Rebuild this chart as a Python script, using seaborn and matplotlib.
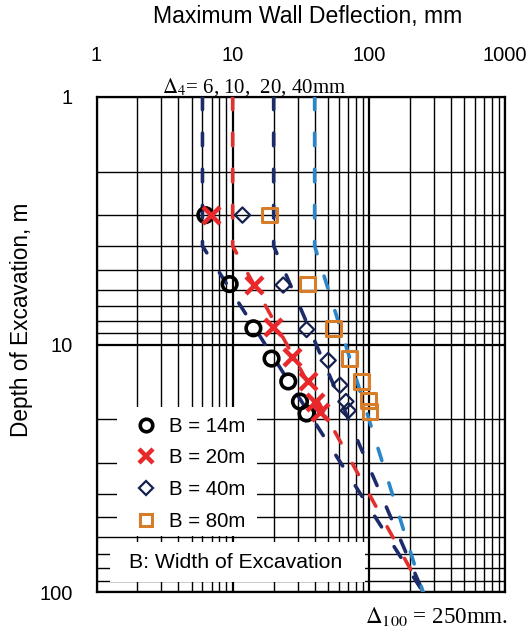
import numpy as np
import matplotlib
matplotlib.use("Agg")
import matplotlib.pyplot as plt
import seaborn as sns
from matplotlib.lines import Line2D
from matplotlib.patches import Rectangle
from matplotlib.ticker import LogLocator, NullFormatter

sns.set_style("white")
plt.rcParams['font.family'] = ['Liberation Sans', 'DejaVu Sans']
plt.rcParams['mathtext.fontset'] = 'stix'
plt.rcParams['text.color'] = 'black'

# measured points: max wall deflection (mm) vs depth of excavation (m)
depth_14 = [3.0, 5.7, 8.6, 11.4, 14.1, 17.0, 19.0]
defl_14 = [6.3, 9.5, 14.2, 19.3, 25.6, 31.2, 34.9]
depth_20 = [3.0, 5.75, 8.5, 11.2, 14.1, 17.0, 18.7]
defl_20 = [6.9, 14.3, 19.9, 27.1, 35.9, 40.2, 43.8]
depth_40 = [3.0, 5.75, 8.7, 11.6, 14.6, 17.0, 18.5]
defl_40 = [11.8, 23.5, 34.9, 50.3, 61.4, 67.9, 70.6]
depth_80 = [3.0, 5.7, 8.6, 11.4, 14.1, 16.8, 18.7]
defl_80 = [18.6, 35.3, 54.8, 72.0, 88.5, 99.0, 102.0]

# design lines: delta4 constant down to 4 m, then straight to 250 mm at 100 m
delta4 = [6, 10, 20, 40]
delta100 = 250
line_depth = [1, 4, 100]
line_colors = ['#1c2c6a', '#e2302e', '#1c2c6a', '#2a86c9']

x_ticks = [1, 10, 100, 1000]
y_ticks = [1, 10, 100]

fig = plt.figure(figsize=(5.31, 6.35), dpi=100)
ax = fig.add_axes([96.5 / 531, 1 - 592 / 635, 408.5 / 531, 495 / 635])
ax.set_xscale('log')
ax.set_yscale('log')

# dashed design lines
for d4, c in zip(delta4, line_colors):
    sns.lineplot(x=[d4, d4, delta100], y=line_depth, sort=False, estimator=None,
                 color=c, lw=2.6, linestyle=(0, (3.5, 6.5)),
                 dash_capstyle='round', zorder=3, ax=ax)

# measured points
sns.scatterplot(x=defl_14, y=depth_14, marker='o', s=110, facecolors='none',
                edgecolor='black', linewidth=2.6, zorder=5, ax=ax)
sns.scatterplot(x=defl_20, y=depth_20, marker='x', s=150, color='#e8282a',
                linewidth=3.2, zorder=5, ax=ax)
sns.scatterplot(x=defl_40, y=depth_40, marker='D', s=60, facecolors='none',
                edgecolor='#14214f', linewidth=1.6, zorder=5, ax=ax)
sns.scatterplot(x=defl_80, y=depth_80, marker='s', s=110, facecolors='none',
                edgecolor='#d77d2a', linewidth=2.2, zorder=5, ax=ax)

ax.set_xlim(1, 1000)
ax.set_ylim(100, 1)
ax.xaxis.tick_top()
ax.set_xticks(x_ticks)
ax.set_xticklabels([str(v) for v in x_ticks])
ax.set_yticks(y_ticks)
ax.set_yticklabels([str(v) for v in y_ticks])
ax.xaxis.set_minor_locator(LogLocator(base=10, subs=np.arange(2, 10)))
ax.yaxis.set_minor_locator(LogLocator(base=10, subs=np.arange(2, 10)))
ax.xaxis.set_minor_formatter(NullFormatter())
ax.yaxis.set_minor_formatter(NullFormatter())
ax.tick_params(axis='both', which='both', length=0, labelsize=14.5, colors='black')
ax.tick_params(axis='x', pad=23)
ax.tick_params(axis='y', pad=17)
ax.set_axisbelow(True)
ax.grid(which='major', color='black', lw=1.6)
ax.grid(which='minor', color='black', lw=1.0)
for s in ax.spines.values():
    s.set_color('black')
    s.set_linewidth(1.6)

ax.set_xlabel('')
ax.set_ylabel('Depth of Excavation, m', fontsize=16.3, color='black')
ax.yaxis.set_label_coords(-0.155, 0.549)
fig.text(308 / 531, 1 - 16 / 635, 'Maximum Wall Deflection, mm', ha='center',
         va='center', fontsize=16.6)

# white boxes for legend and note
ax.add_patch(Rectangle((0.05, 0.113), 0.343, 0.261, transform=ax.transAxes,
                       facecolor='white', edgecolor='none', zorder=1))
ax.add_patch(Rectangle((0.033, 0.020), 0.624, 0.081, transform=ax.transAxes,
                       facecolor='white', edgecolor='none', zorder=1))

handles = [
    Line2D([], [], ls='', marker='o', ms=9, mfc='none', mec='black', mew=2.6),
    Line2D([], [], ls='', marker='x', ms=10, color='#e8282a', mew=3.2),
    Line2D([], [], ls='', marker='D', ms=7, mfc='none', mec='#14214f', mew=1.6),
    Line2D([], [], ls='', marker='s', ms=9, mfc='none', mec='#d77d2a', mew=2.2),
]
labels = ['B = 14m', 'B = 20m', 'B = 40m', 'B = 80m']
leg = ax.legend(handles, labels, loc='upper left', bbox_to_anchor=(0.055, 0.383),
                frameon=False, fontsize=14.7, handlelength=1.2, handletextpad=0.55,
                labelspacing=0.62, borderpad=0.2)
leg.set_zorder(6)
ax.text(0.0796, 0.0606, 'B: Width of Excavation', transform=ax.transAxes,
        ha='left', va='center', fontsize=15.3, zorder=6)

fig.text(162 / 531, 1 - 87 / 635, r'$\Delta_4$= 6, 10,  20, 40mm', ha='left',
         va='center', fontsize=15, family='Liberation Serif')
fig.text(365 / 531, 1 - 617 / 635, r'$\Delta_{100}$ = 250mm.', ha='left',
         va='center', fontsize=16.6, family='Liberation Serif')

fig.savefig('out.png', dpi=100)
